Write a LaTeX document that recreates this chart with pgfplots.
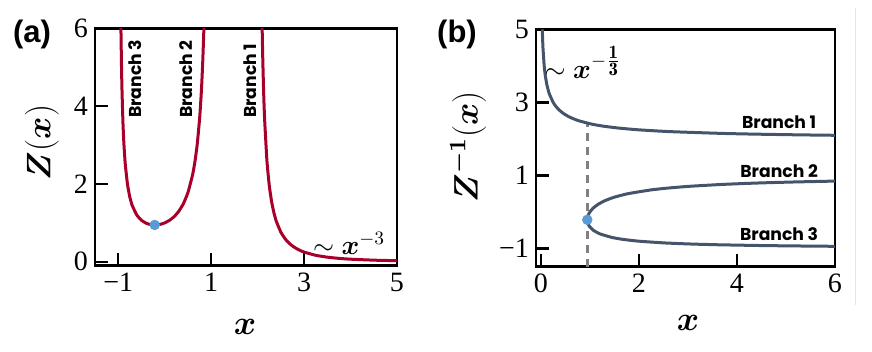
\RequirePackage{fix-cm}
\documentclass[border=0pt]{standalone}
\usepackage{amsmath}
\usepackage{fontspec}
\usepackage{pgfplots}
\usepackage{pgfplotstable}
\pgfplotsset{compat=1.18}
\newfontfamily\poppins{Poppins}
\newfontfamily\arialb{Liberation Sans}
\newfontfamily\timesf{Liberation Serif}

\definecolor{zred}{HTML}{A8002A}
\definecolor{zslate}{HTML}{44546A}
\definecolor{dotblue}{HTML}{5B9BD5}
\definecolor{dashgray}{HTML}{808080}

% Z(t) = 2/((t+1)(t-1)(t-2))
\pgfplotstableread{
t Z
-0.944 6.24
-0.94 5.84
-0.93 5.05
-0.92 4.46
-0.90 3.63
-0.88 3.078
-0.85 2.529
-0.80 1.984
-0.75 1.662
-0.70 1.452
-0.60 1.202
-0.50 1.067
-0.40 0.992
-0.35 0.970
-0.30 0.956
-0.25 0.948
-0.2153 0.9467
-0.15 0.952
-0.10 0.962
-0.05 0.978
0.00 1.000
0.10 1.063
0.20 1.157
0.30 1.293
0.40 1.488
0.50 1.778
0.60 2.232
0.65 2.565
0.70 3.017
0.75 3.657
0.78 4.186
0.80 4.630
0.82 5.174
0.84 5.856
0.845 6.055
}\midbranch

\pgfplotstableread{
t Z
2.09 6.598
2.10 5.865
2.11 5.267
2.13 4.350
2.15 3.681
2.20 2.604
2.25 1.969
2.30 1.554
2.35 1.264
2.40 1.050
2.50 0.762
2.60 0.579
2.70 0.454
2.80 0.366
2.90 0.300
3.00 0.250
3.25 0.167
3.50 0.119
3.75 0.088
4.00 0.067
4.50 0.042
5.00 0.028
}\rightbranch

\pgfplotsset{
  panel/.style={
    scale only axis,
    anchor=south west,
    axis line style={line width=1.4pt},
    tick align=inside,
    xtick pos=bottom, ytick pos=left,
    major tick length=6.5pt,
    tick style={line width=1.2pt, black},
    ticklabel style={font=\timesf\fontsize{14}{16}\selectfont},
    clip=true,
  },
  curve/.style={line width=1.5pt, smooth, tension=0.3},
}
\tikzset{branch/.style={font=\poppins\bfseries\fontsize{8.6}{10}\selectfont}}

\begin{document}
\begin{tikzpicture}
\path[use as bounding box] (0,0) rectangle (436pt,176pt);
\draw[black!10, line width=0.5pt] (427.5pt,172pt) -- (427.5pt,23.5pt);

\begin{axis}[panel, at={(47.5pt,43.15pt)}, width=151pt, height=118.7pt,
  xmin=-1.5, xmax=5, ymin=-0.1, ymax=6,
  xtick={-1,1,3,5}, xticklabels={−1,1,3,5},
  ytick={0,2,4,6}, yticklabels={0,2,4,6}]
\addplot[curve, zred] table[x=t, y=Z] {\midbranch};
\addplot[curve, zred] table[x=t, y=Z] {\rightbranch};
\addplot[only marks, mark=*, mark size=2.4pt, dotblue] coordinates {(-0.2153,0.9467)};
\node[font=\fontsize{13.5}{15}\selectfont] at (axis cs:3.97,0.48) {$\sim\boldsymbol{x}^{-3}$};
\node[branch, rotate=90, anchor=west] at (axis cs:-0.64,3.52) {Branch 3};
\node[branch, rotate=90, anchor=west] at (axis cs:0.465,3.52) {Branch 2};
\node[branch, rotate=90, anchor=west] at (axis cs:1.83,3.52) {Branch 1};
\end{axis}

\begin{axis}[panel, at={(268pt,42.65pt)}, width=149.5pt, height=118.7pt,
  xmin=-0.1, xmax=6, ymin=-1.5, ymax=5,
  xtick={0,2,4,6}, xticklabels={0,2,4,6},
  ytick={-1,1,3,5}, yticklabels={−1,1,3,5}]
\addplot[dashgray, line width=1.2pt, dash pattern=on 4pt off 3pt] coordinates {(0.9467,-1.5) (0.9467,2.43)};
\addplot[curve, zslate] table[x=Z, y=t] {\midbranch};
\addplot[curve, zslate] table[x=Z, y=t] {\rightbranch};
\addplot[only marks, mark=*, mark size=2.4pt, dotblue] coordinates {(0.9467,-0.2153)};
\node[font=\fontsize{13.5}{15}\selectfont] at (axis cs:0.86,4.10) {$\sim\boldsymbol{x}^{-\frac{\scriptstyle\mathbf{1}}{\scriptstyle\mathbf{3}}}$};
\node[branch] at (axis cs:4.86,2.46) {Branch 1};
\node[branch] at (axis cs:4.86,1.12) {Branch 2};
\node[branch] at (axis cs:4.86,-0.60) {Branch 3};
\end{axis}

\node[font=\arialb\bfseries\fontsize{15.5}{17}\selectfont] at (16pt,159pt) {(a)};
\node[font=\arialb\bfseries\fontsize{15.5}{17}\selectfont] at (228.5pt,159pt) {(b)};
\node[rotate=90, font=\fontsize{17}{19}\selectfont] at (21pt,104.75pt) {$\boldsymbol{Z}(\boldsymbol{x})$};
\node[rotate=90, font=\fontsize{17}{19}\selectfont] at (234pt,102.5pt) {$\boldsymbol{Z^{-1}}(\boldsymbol{x})$};
\node[font=\fontsize{17}{19}\selectfont] at (122.5pt,12.5pt) {$\boldsymbol{x}$};
\node[font=\fontsize{17}{19}\selectfont] at (344pt,14.5pt) {$\boldsymbol{x}$};
\end{tikzpicture}
\end{document}
